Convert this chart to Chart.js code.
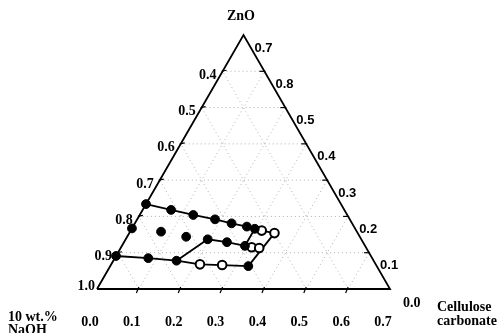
<!DOCTYPE html>
<html>
<head>
<meta charset="utf-8">
<script src="https://cdn.jsdelivr.net/npm/chart.js@4.4.1/dist/chart.umd.min.js"></script>
<style>
  html, body { margin: 0; padding: 0; background: #fff; }
  #wrap { width: 498px; height: 333px; position: relative; }
</style>
</head>
<body>
<div id="wrap"><canvas id="ternary"></canvas></div>
<script>
// Mass fractions: cellulose carbonate (c) and ZnO (z); NaOH = 1 - c - z
const filledCell = [0, 0, 0, 0.068, 0.128, 0.186, 0.231, 0.272, 0.294, 0.074, 0.141, 0.196, 0.246, 0.294, 0.080, 0.151, 0.330];
const filledZnO  = [0.234, 0.167, 0.091, 0.218, 0.204, 0.192, 0.181, 0.172, 0.166, 0.158, 0.144, 0.137, 0.129, 0.119, 0.085, 0.078, 0.063];
const openCell = [0.313, 0.347, 0.312, 0.331, 0.212, 0.266];
const openZnO  = [0.161, 0.154, 0.115, 0.113, 0.068, 0.066];

// boundary lines of the region
const topCell = [0, 0.068, 0.128, 0.186, 0.231, 0.272, 0.294, 0.313, 0.347];
const topZnO  = [0.234, 0.218, 0.204, 0.192, 0.181, 0.172, 0.166, 0.161, 0.154];
const rightCell = [0.347, 0.330];
const rightZnO  = [0.154, 0.063];
const bottomCell = [0, 0.080, 0.151, 0.212, 0.266, 0.330];
const bottomZnO  = [0.091, 0.085, 0.078, 0.068, 0.066, 0.063];
const midCell = [0.151, 0.196, 0.246, 0.294, 0.312, 0.331];
const midZnO  = [0.078, 0.137, 0.129, 0.119, 0.115, 0.113];
const stepCell = [0.294, 0.294];
const stepZnO  = [0.166, 0.119];

// axis ticks
const cellTicks = ['0.0', '0.1', '0.2', '0.3', '0.4', '0.5', '0.6', '0.7'];
const naohTicks = ['1.0', '0.9', '0.8', '0.7', '0.6', '0.5', '0.4'];
const znoTicks  = ['0.0', '0.1', '0.2', '0.3', '0.4', '0.5', '0.8', '0.7'];

const SIDE = 0.7;
const H = Math.sqrt(3) / 2;

// ternary -> cartesian
function pt(c, z) { return { x: c + z / 2, y: z * H }; }
function path(cs, zs) { return cs.map((c, i) => pt(c, zs[i])); }

const datasets = [];

datasets.push({
    label: 'filled', data: path(filledCell, filledZnO), order: 0,
    pointRadius: 4.4, pointBackgroundColor: '#000', pointBorderColor: '#000', pointBorderWidth: 1,
    showLine: false, clip: false
});
datasets.push({
    label: 'open', data: path(openCell, openZnO), order: 0,
    pointRadius: 4.3, pointBackgroundColor: '#fff', pointBorderColor: '#000', pointBorderWidth: 2,
    showLine: false, clip: false
});

[[topCell, topZnO], [rightCell, rightZnO], [bottomCell, bottomZnO], [midCell, midZnO], [stepCell, stepZnO]].forEach(p => {
    datasets.push({
        data: path(p[0], p[1]), order: 1, showLine: true,
        borderColor: '#000', borderWidth: 1.8, pointRadius: 0, clip: false
    });
});

// triangle frame
datasets.push({
    data: [pt(0, 0), pt(SIDE, 0), pt(0, SIDE), pt(0, 0)], order: 2, showLine: true,
    borderColor: '#000', borderWidth: 1.8, pointRadius: 0, clip: false
});

// dotted grid
const grid = v => ({ data: v, order: 3, showLine: true, borderColor: '#b0b0b0', borderWidth: 1,
    borderDash: [1, 3], pointRadius: 0, clip: false });
for (let k = 1; k < 7; k++) {
    const v = k / 10;
    datasets.push(grid([pt(0, v), pt(SIDE - v, v)]));     // const ZnO
    datasets.push(grid([pt(v, 0), pt(v, SIDE - v)]));     // const cellulose
    datasets.push(grid([pt(v, 0), pt(0, v)]));            // const NaOH
}

const labelsPlugin = {
    id: 'ternaryLabels',
    afterDraw(chart) {
        const ctx = chart.ctx;
        const sx = chart.scales.x, sy = chart.scales.y;
        const px = (c, z) => { const p = pt(c, z); return [sx.getPixelForValue(p.x), sy.getPixelForValue(p.y)]; };
        const serif = 'bold 14px "Liberation Serif", "DejaVu Serif", serif';
        const sans = 'bold 13px "Liberation Sans", Arial, sans-serif';
        ctx.save();
        ctx.fillStyle = '#000';
        ctx.strokeStyle = '#000';
        ctx.lineWidth = 1.2;
        ctx.textBaseline = 'middle';

        // tick marks
        for (let k = 1; k < 7; k++) {
            const v = k / 10;
            let [x, y] = px(v, 0);
            ctx.beginPath(); ctx.moveTo(x, y - 2); ctx.lineTo(x - 2.5, y + 4); ctx.stroke();
            [x, y] = px(0, v);
            ctx.beginPath(); ctx.moveTo(x - 1, y); ctx.lineTo(x + 4, y - 1); ctx.stroke();
            [x, y] = px(SIDE - v, v);
            ctx.beginPath(); ctx.moveTo(x + 1, y); ctx.lineTo(x - 5, y); ctx.stroke();
        }

        // bottom: cellulose carbonate
        ctx.font = serif;
        ctx.textAlign = 'center';
        cellTicks.forEach((t, i) => {
            const [x] = px(i / 10, 0);
            ctx.fillText(t, x - 7, 322);
        });

        // left: NaOH
        ctx.textAlign = 'right';
        naohTicks.forEach((t, i) => {
            const [x, y] = px(0, i / 10);
            if (i === 0) ctx.fillText(t, x - 2, y - 3);
            else ctx.fillText(t, x - 6, y + 4);
        });

        // right: ZnO
        ctx.textAlign = 'left';
        znoTicks.forEach((t, i) => {
            const [x, y] = px(SIDE - i / 10, i / 10);
            if (i === 0) { ctx.font = serif; ctx.fillText(t, x + 13, y + 14); }
            else { ctx.font = sans; ctx.fillText(t, x + 11, y + 13); }
        });

        // component names
        ctx.font = serif;
        ctx.textAlign = 'center';
        ctx.fillText('ZnO', 241, 16);
        ctx.textAlign = 'left';
        ctx.fillText('10 wt.%', 8, 317);
        ctx.fillText('NaOH', 8, 330);
        ctx.fillText('Cellulose', 437, 307);
        ctx.fillText('carbonate', 437, 321);
        ctx.restore();
    }
};

new Chart(document.getElementById('ternary'), {
    type: 'scatter',
    data: { datasets },
    options: {
        responsive: true,
        maintainAspectRatio: false,
        animation: false,
        layout: { padding: { left: 97, right: 108, top: 35, bottom: 44 } },
        scales: {
            x: { type: 'linear', min: 0, max: SIDE, display: false },
            y: { type: 'linear', min: 0, max: SIDE * H, display: false }
        },
        plugins: { legend: { display: false }, tooltip: { enabled: false } }
    },
    plugins: [labelsPlugin]
});
</script>
</body>
</html>
